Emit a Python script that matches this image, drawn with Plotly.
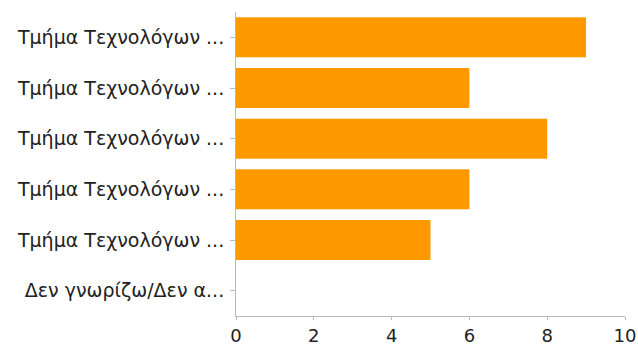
import plotly.graph_objects as go

# Survey answers (top to bottom) and their response counts
categories = [
    "Τμήμα Τεχνολόγων ...",
    "Τμήμα Τεχνολόγων ...",
    "Τμήμα Τεχνολόγων ...",
    "Τμήμα Τεχνολόγων ...",
    "Τμήμα Τεχνολόγων ...",
    "Δεν γνωρίζω/Δεν α...",
]
counts = [9, 6, 8, 6, 5, 0]
x_ticks = [0, 2, 4, 6, 8, 10]

# Unique y keys so repeated labels stay as separate rows
keys = [f"c{i}" for i in range(len(categories))]

fig = go.Figure(
    go.Bar(
        x=counts,
        y=keys,
        orientation="h",
        marker=dict(color="#ff9900", line=dict(width=0)),
        width=0.79,
    )
)

fig.update_layout(
    width=638,
    height=346,
    margin=dict(l=236, r=13, t=12, b=30),
    paper_bgcolor="white",
    plot_bgcolor="white",
    showlegend=False,
    font=dict(family="DejaVu Sans, Verdana, sans-serif", color="#222222"),
)

fig.update_xaxes(
    range=[0, 10],
    tickvals=x_ticks,
    automargin=False,
    showgrid=False,
    zeroline=False,
    showline=True,
    linecolor="#b4bac2",
    linewidth=1,
    ticks="outside",
    ticklen=3,
    tickcolor="#b4bac2",
    ticklabelstandoff=0,
    tickfont=dict(size=18, color="#222222"),
)

fig.update_yaxes(
    categoryorder="array",
    categoryarray=keys[::-1],
    tickvals=keys,
    ticktext=categories,
    range=[-0.5, len(keys) - 0.5],
    autorange=False,
    automargin=False,
    showgrid=False,
    zeroline=False,
    showline=True,
    linecolor="#b4bac2",
    linewidth=1,
    ticks="outside",
    ticklen=5,
    tickcolor="#b4bac2",
    ticklabelstandoff=2,
    tickfont=dict(size=19, color="#222222"),
)

fig.write_html("out.html")
